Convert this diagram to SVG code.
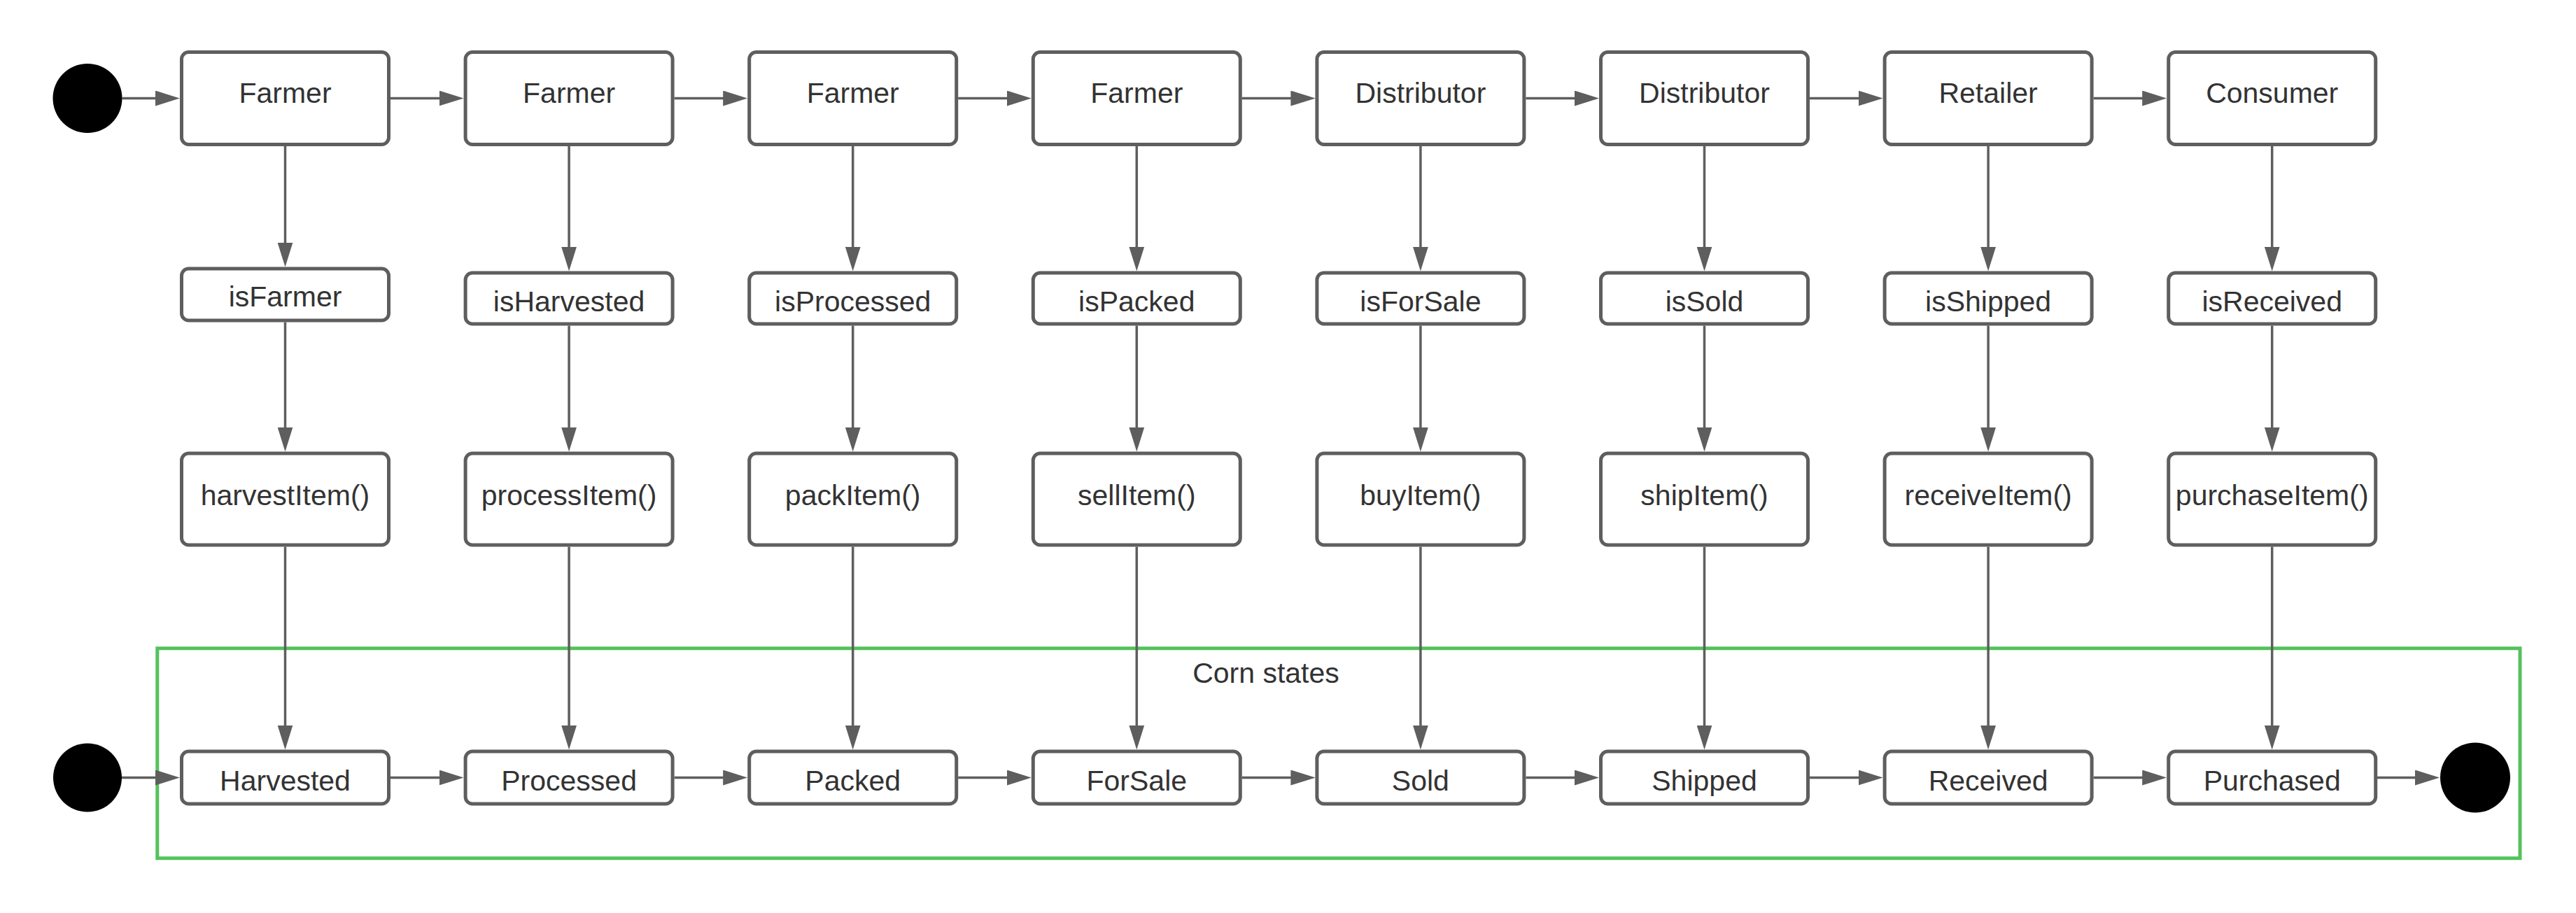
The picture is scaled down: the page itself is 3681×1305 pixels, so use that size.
<svg xmlns="http://www.w3.org/2000/svg" width="3681" height="1305" viewBox="0 0 3681 1305">
<style>
.box{fill:#ffffff;stroke:#5e5e5e;stroke-width:5}
.lbl{font-family:"Liberation Sans",Arial,sans-serif;font-size:41px;fill:#333333;text-anchor:middle}
.conn{stroke:#5e5e5e;stroke-width:3.5;fill:none}
.dot{fill:#000000}
.frame{fill:none;stroke:#55c25c;stroke-width:5;stroke-linecap:round}
</style>
<defs>
<marker id="arr" markerUnits="userSpaceOnUse" markerWidth="35" markerHeight="22" refX="15" refY="11" orient="auto">
<path d="M0,0 L35,11 L0,22 z" fill="#5e5e5e"/>
</marker>
</defs>
<rect width="3681" height="1305" fill="#ffffff"/>

<g id="corn-states">
<rect class="frame" x="224.8" y="926.7" width="3376.2" height="300"/>
<text class="lbl" x="1809" y="976">Corn states</text>
</g>

<g id="start-top"><circle class="dot" cx="125" cy="140.5" r="49.5"/></g>
<g id="start-bottom"><circle class="dot" cx="125" cy="1111.5" r="49"/></g>
<g id="end-bottom"><circle class="dot" cx="3537" cy="1111.5" r="50"/></g>

<g id="connectors">
<!-- row 1 horizontal -->
<path class="conn" marker-end="url(#arr)" d="M174,140.5 H237"/>
<path class="conn" marker-end="url(#arr)" d="M558,140.5 H642.6"/>
<path class="conn" marker-end="url(#arr)" d="M963.6,140.5 H1048.2"/>
<path class="conn" marker-end="url(#arr)" d="M1369.2,140.5 H1453.8"/>
<path class="conn" marker-end="url(#arr)" d="M1774.8,140.5 H1859.4"/>
<path class="conn" marker-end="url(#arr)" d="M2180.4,140.5 H2265"/>
<path class="conn" marker-end="url(#arr)" d="M2586,140.5 H2670.6"/>
<path class="conn" marker-end="url(#arr)" d="M2991.6,140.5 H3076.2"/>
<!-- row 4 horizontal -->
<path class="conn" marker-end="url(#arr)" d="M174,1111.5 H237"/>
<path class="conn" marker-end="url(#arr)" d="M558,1111.5 H642.6"/>
<path class="conn" marker-end="url(#arr)" d="M963.6,1111.5 H1048.2"/>
<path class="conn" marker-end="url(#arr)" d="M1369.2,1111.5 H1453.8"/>
<path class="conn" marker-end="url(#arr)" d="M1774.8,1111.5 H1859.4"/>
<path class="conn" marker-end="url(#arr)" d="M2180.4,1111.5 H2265"/>
<path class="conn" marker-end="url(#arr)" d="M2586,1111.5 H2670.6"/>
<path class="conn" marker-end="url(#arr)" d="M2991.6,1111.5 H3076.2"/>
<path class="conn" marker-end="url(#arr)" d="M3397,1111.5 H3466"/>
<!-- verticals col 0 -->
<path class="conn" marker-end="url(#arr)" d="M407.5,209 V361.5"/>
<path class="conn" marker-end="url(#arr)" d="M407.5,460.5 V625.5"/>
<path class="conn" marker-end="url(#arr)" d="M407.5,781.5 V1051.5"/>
<!-- col 1 -->
<path class="conn" marker-end="url(#arr)" d="M813.1,209 V367.5"/>
<path class="conn" marker-end="url(#arr)" d="M813.1,465.5 V625.5"/>
<path class="conn" marker-end="url(#arr)" d="M813.1,781.5 V1051.5"/>
<!-- col 2 -->
<path class="conn" marker-end="url(#arr)" d="M1218.7,209 V367.5"/>
<path class="conn" marker-end="url(#arr)" d="M1218.7,465.5 V625.5"/>
<path class="conn" marker-end="url(#arr)" d="M1218.7,781.5 V1051.5"/>
<!-- col 3 -->
<path class="conn" marker-end="url(#arr)" d="M1624.3,209 V367.5"/>
<path class="conn" marker-end="url(#arr)" d="M1624.3,465.5 V625.5"/>
<path class="conn" marker-end="url(#arr)" d="M1624.3,781.5 V1051.5"/>
<!-- col 4 -->
<path class="conn" marker-end="url(#arr)" d="M2029.9,209 V367.5"/>
<path class="conn" marker-end="url(#arr)" d="M2029.9,465.5 V625.5"/>
<path class="conn" marker-end="url(#arr)" d="M2029.9,781.5 V1051.5"/>
<!-- col 5 -->
<path class="conn" marker-end="url(#arr)" d="M2435.5,209 V367.5"/>
<path class="conn" marker-end="url(#arr)" d="M2435.5,465.5 V625.5"/>
<path class="conn" marker-end="url(#arr)" d="M2435.5,781.5 V1051.5"/>
<!-- col 6 -->
<path class="conn" marker-end="url(#arr)" d="M2841.1,209 V367.5"/>
<path class="conn" marker-end="url(#arr)" d="M2841.1,465.5 V625.5"/>
<path class="conn" marker-end="url(#arr)" d="M2841.1,781.5 V1051.5"/>
<!-- col 7 -->
<path class="conn" marker-end="url(#arr)" d="M3246.7,209 V367.5"/>
<path class="conn" marker-end="url(#arr)" d="M3246.7,465.5 V625.5"/>
<path class="conn" marker-end="url(#arr)" d="M3246.7,781.5 V1051.5"/>
</g>

<!-- row 1: roles -->
<g id="role-farmer-1"><rect class="box" x="259.5" y="74.5" width="296" height="132" rx="10"/><text class="lbl" x="407.5" y="147">Farmer</text></g>
<g id="role-farmer-2"><rect class="box" x="665.1" y="74.5" width="296" height="132" rx="10"/><text class="lbl" x="813.1" y="147">Farmer</text></g>
<g id="role-farmer-3"><rect class="box" x="1070.7" y="74.5" width="296" height="132" rx="10"/><text class="lbl" x="1218.7" y="147">Farmer</text></g>
<g id="role-farmer-4"><rect class="box" x="1476.3" y="74.5" width="296" height="132" rx="10"/><text class="lbl" x="1624.3" y="147">Farmer</text></g>
<g id="role-distributor-1"><rect class="box" x="1881.9" y="74.5" width="296" height="132" rx="10"/><text class="lbl" x="2029.9" y="147">Distributor</text></g>
<g id="role-distributor-2"><rect class="box" x="2287.5" y="74.5" width="296" height="132" rx="10"/><text class="lbl" x="2435.5" y="147">Distributor</text></g>
<g id="role-retailer"><rect class="box" x="2693.1" y="74.5" width="296" height="132" rx="10"/><text class="lbl" x="2841.1" y="147">Retailer</text></g>
<g id="role-consumer"><rect class="box" x="3098.7" y="74.5" width="296" height="132" rx="10"/><text class="lbl" x="3246.7" y="147">Consumer</text></g>

<!-- row 2: checks -->
<g id="check-isFarmer"><rect class="box" x="259.5" y="384" width="296" height="74" rx="10"/><text class="lbl" x="407.5" y="438">isFarmer</text></g>
<g id="check-isHarvested"><rect class="box" x="665.1" y="390" width="296" height="73" rx="10"/><text class="lbl" x="813.1" y="445">isHarvested</text></g>
<g id="check-isProcessed"><rect class="box" x="1070.7" y="390" width="296" height="73" rx="10"/><text class="lbl" x="1218.7" y="445">isProcessed</text></g>
<g id="check-isPacked"><rect class="box" x="1476.3" y="390" width="296" height="73" rx="10"/><text class="lbl" x="1624.3" y="445">isPacked</text></g>
<g id="check-isForSale"><rect class="box" x="1881.9" y="390" width="296" height="73" rx="10"/><text class="lbl" x="2029.9" y="445">isForSale</text></g>
<g id="check-isSold"><rect class="box" x="2287.5" y="390" width="296" height="73" rx="10"/><text class="lbl" x="2435.5" y="445">isSold</text></g>
<g id="check-isShipped"><rect class="box" x="2693.1" y="390" width="296" height="73" rx="10"/><text class="lbl" x="2841.1" y="445">isShipped</text></g>
<g id="check-isReceived"><rect class="box" x="3098.7" y="390" width="296" height="73" rx="10"/><text class="lbl" x="3246.7" y="445">isReceived</text></g>

<!-- row 3: methods -->
<g id="fn-harvestItem"><rect class="box" x="259.5" y="648" width="296" height="131" rx="10"/><text class="lbl" x="407.5" y="722">harvestItem()</text></g>
<g id="fn-processItem"><rect class="box" x="665.1" y="648" width="296" height="131" rx="10"/><text class="lbl" x="813.1" y="722">processItem()</text></g>
<g id="fn-packItem"><rect class="box" x="1070.7" y="648" width="296" height="131" rx="10"/><text class="lbl" x="1218.7" y="722">packItem()</text></g>
<g id="fn-sellItem"><rect class="box" x="1476.3" y="648" width="296" height="131" rx="10"/><text class="lbl" x="1624.3" y="722">sellItem()</text></g>
<g id="fn-buyItem"><rect class="box" x="1881.9" y="648" width="296" height="131" rx="10"/><text class="lbl" x="2029.9" y="722">buyItem()</text></g>
<g id="fn-shipItem"><rect class="box" x="2287.5" y="648" width="296" height="131" rx="10"/><text class="lbl" x="2435.5" y="722">shipItem()</text></g>
<g id="fn-receiveItem"><rect class="box" x="2693.1" y="648" width="296" height="131" rx="10"/><text class="lbl" x="2841.1" y="722">receiveItem()</text></g>
<g id="fn-purchaseItem"><rect class="box" x="3098.7" y="648" width="296" height="131" rx="10"/><text class="lbl" x="3246.7" y="722">purchaseItem()</text></g>

<!-- row 4: states -->
<g id="state-Harvested"><rect class="box" x="259.5" y="1074" width="296" height="75" rx="10"/><text class="lbl" x="407.5" y="1130">Harvested</text></g>
<g id="state-Processed"><rect class="box" x="665.1" y="1074" width="296" height="75" rx="10"/><text class="lbl" x="813.1" y="1130">Processed</text></g>
<g id="state-Packed"><rect class="box" x="1070.7" y="1074" width="296" height="75" rx="10"/><text class="lbl" x="1218.7" y="1130">Packed</text></g>
<g id="state-ForSale"><rect class="box" x="1476.3" y="1074" width="296" height="75" rx="10"/><text class="lbl" x="1624.3" y="1130">ForSale</text></g>
<g id="state-Sold"><rect class="box" x="1881.9" y="1074" width="296" height="75" rx="10"/><text class="lbl" x="2029.9" y="1130">Sold</text></g>
<g id="state-Shipped"><rect class="box" x="2287.5" y="1074" width="296" height="75" rx="10"/><text class="lbl" x="2435.5" y="1130">Shipped</text></g>
<g id="state-Received"><rect class="box" x="2693.1" y="1074" width="296" height="75" rx="10"/><text class="lbl" x="2841.1" y="1130">Received</text></g>
<g id="state-Purchased"><rect class="box" x="3098.7" y="1074" width="296" height="75" rx="10"/><text class="lbl" x="3246.7" y="1130">Purchased</text></g>
</svg>
